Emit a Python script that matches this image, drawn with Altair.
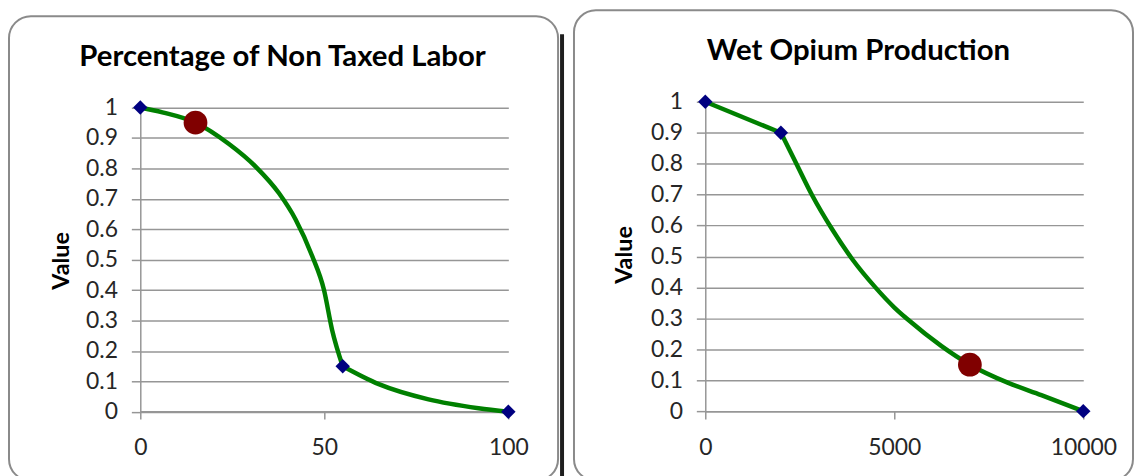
import altair as alt
import pandas as pd

FONT = "Lato"
GRAY = "#969696"
LABEL = "#262626"

left_title = "Percentage of Non Taxed Labor"
right_title = "Wet Opium Production"
y_axis_title = "Value"

# Left panel curve (two smoothed segments meeting at the knee point)
left_seg1_x = [0, 6, 15, 24.1, 31.4, 37.7, 42.2, 46.7, 49.9, 52.1, 55]
left_seg1_y = [1, 0.984, 0.95, 0.88, 0.805, 0.718, 0.632, 0.512, 0.401, 0.27, 0.15]
left_seg2_x = [55, 64.8, 78.3, 91.9, 100]
left_seg2_y = [0.15, 0.091, 0.041, 0.012, 0]
left_knots_x = [0, 55, 100]
left_knots_y = [1, 0.15, 0]
left_score_x = [15]
left_score_y = [0.95]

# Right panel curve
right_seg1_x = [0, 2000]
right_seg1_y = [1, 0.9]
right_seg2_x = [2000, 2400, 2830, 3360, 3890, 4500, 5010, 5360, 6250, 7000, 8000, 8890, 10000]
right_seg2_y = [0.9, 0.802, 0.697, 0.587, 0.491, 0.400, 0.334, 0.296, 0.21, 0.15, 0.092, 0.052, 0]
right_knots_x = [0, 2000, 10000]
right_knots_y = [1, 0.9, 0]
right_score_x = [7000]
right_score_y = [0.15]

y_ticks = [0, 0.1, 0.2, 0.3, 0.4, 0.5, 0.6, 0.7, 0.8, 0.9, 1]
left_x_ticks = [0, 50, 100]
right_x_ticks = [0, 5000, 10000]


def curve_df(seg1x, seg1y, seg2x, seg2y):
    return pd.DataFrame({
        "x": seg1x + seg2x,
        "y": seg1y + seg2y,
        "seg": ["a"] * len(seg1x) + ["b"] * len(seg2x),
    })


def panel(cdf, kx, ky, sx, sy, title, xdomain, xticks, width, yrange,
          frame, shadow_x, title_pos, ytitle_pos):
    one = pd.DataFrame({"k": [0]})
    xs = alt.Scale(domain=xdomain, nice=False, zero=False)
    ys = alt.Scale(domain=[0, 1], range=yrange, nice=False)
    x_axis = alt.Axis(values=xticks, format="d", grid=False, title=None,
                      tickSize=8, tickColor=GRAY, tickWidth=1.5,
                      domainColor=GRAY, domainWidth=1.5,
                      labelFont=FONT, labelFontSize=23, labelColor=LABEL,
                      labelPadding=18, labelFlush=False, labelOverlap=False)
    y_axis = alt.Axis(values=y_ticks, format=".1~f", grid=True, title=None,
                      gridColor=GRAY, gridWidth=1.5,
                      tickSize=9, tickColor=GRAY, tickWidth=1.5,
                      domainColor=GRAY, domainWidth=1.5,
                      labelFont=FONT, labelFontSize=23, labelColor=LABEL,
                      labelPadding=14, labelOverlap=False)
    X = alt.X("x:Q", scale=xs, axis=x_axis)
    Y = alt.Y("y:Q", scale=ys, axis=y_axis)
    layers = []
    if shadow_x is not None:
        layers.append(alt.Chart(one).mark_rule(color="#1e1e1e", strokeWidth=4).encode(
            x=alt.value(shadow_x), y=alt.value(frame[2] + 18), y2=alt.value(frame[3] + 5)))
    layers.append(alt.Chart(one).mark_rect(fill="transparent", stroke="#8a8a8a",
                                           strokeWidth=2, cornerRadius=22).encode(
        x=alt.value(frame[0]), x2=alt.value(frame[1]),
        y=alt.value(frame[2]), y2=alt.value(frame[3])))
    layers.append(alt.Chart(one).mark_text(text=title, font=FONT, fontSize=29.5,
                                           fontWeight="bold", color="black",
                                           align="center", baseline="middle").encode(
        x=alt.value(title_pos[0]), y=alt.value(title_pos[1])))
    layers.append(alt.Chart(one).mark_text(text=y_axis_title, font=FONT, fontSize=23.5,
                                           fontWeight="bold", color="black", angle=270,
                                           align="center", baseline="middle").encode(
        x=alt.value(ytitle_pos[0]), y=alt.value(ytitle_pos[1])))
    layers.append(alt.Chart(cdf).mark_line(interpolate="monotone", color="#008000",
                                           strokeWidth=4.5).encode(
        x=X, y=Y, detail="seg:N"))
    kdf = pd.DataFrame({"x": kx, "y": ky})
    layers.append(alt.Chart(kdf).mark_point(shape="diamond", filled=True, color="#000080",
                                            size=210, opacity=1).encode(x=X, y=Y))
    sdf = pd.DataFrame({"x": sx, "y": sy})
    layers.append(alt.Chart(sdf).mark_point(shape="circle", filled=True, color="#800000",
                                            size=570, opacity=1).encode(x=X, y=Y))
    return alt.layer(*layers).properties(width=width, height=311)


left = panel(curve_df(left_seg1_x, left_seg1_y, left_seg2_x, left_seg2_y),
             left_knots_x, left_knots_y, left_score_x, left_score_y,
             left_title, [0, 100], left_x_ticks, 370, [311.7, 5.7],
             frame=(-132, 420, -86, 381), shadow_x=424,
             title_pos=(143, -45), ytitle_pos=(-79, 160))

right = panel(curve_df(right_seg1_x, right_seg1_y, right_seg2_x, right_seg2_y),
              right_knots_x, right_knots_y, right_score_x, right_score_y,
              right_title, [0, 10000], right_x_ticks, 380, [311, 0],
              frame=(-132, 430, -92, 381), shadow_x=None,
              title_pos=(154, -51), ytitle_pos=(-81, 154))

chart = alt.hconcat(left, right, spacing=198, bounds="flush").properties(
    padding=0, background="white"
).configure_view(strokeWidth=0)

chart.save("out.html", embed_options={"renderer": "svg", "actions": False})
